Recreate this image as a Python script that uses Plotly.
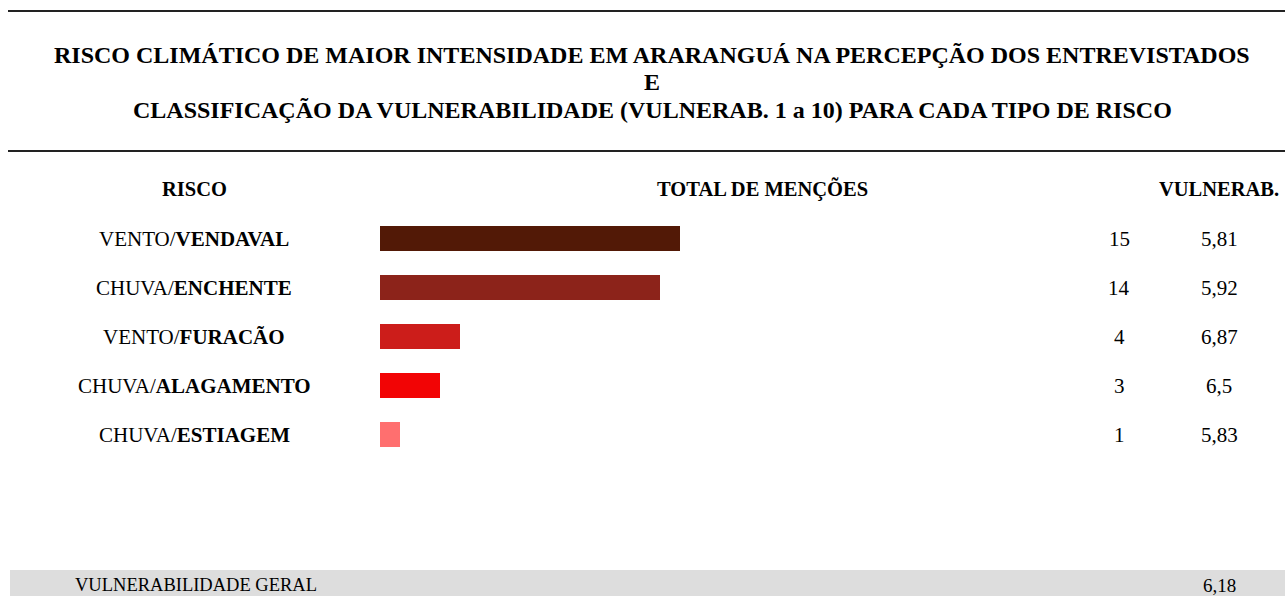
import plotly.graph_objects as go

# Data
riscos_prefixo = ["VENTO/", "CHUVA/", "VENTO/", "CHUVA/", "CHUVA/"]
riscos_tipo = ["VENDAVAL", "ENCHENTE", "FURACÃO", "ALAGAMENTO", "ESTIAGEM"]
mencoes = [15, 14, 4, 3, 1]
vulnerab = ["5,81", "5,92", "6,87", "6,5", "5,83"]
cores = ["#521906", "#8c231a", "#cc1d1a", "#f20405", "#ff6f6f"]
vulnerab_geral = "6,18"

titulo_linhas = [
    "RISCO CLIMÁTICO DE MAIOR INTENSIDADE EM ARARANGUÁ NA PERCEPÇÃO DOS ENTREVISTADOS",
    "E",
    "CLASSIFICAÇÃO DA VULNERABILIDADE (VULNERAB. 1 a 10) PARA CADA TIPO DE RISCO",
]
cabecalhos = ["RISCO", "TOTAL DE MENÇÕES", "VULNERAB."]

W, H = 1285, 596
FONT = "Liberation Serif, Times New Roman, serif"


def px(x):
    return x / W


def py(y):
    return 1 - y / H


categorias = [p + t for p, t in zip(riscos_prefixo, riscos_tipo)]

fig = go.Figure()
fig.add_trace(go.Bar(
    x=mencoes,
    y=categorias,
    orientation="h",
    marker=dict(color=cores, line=dict(width=0)),
    width=0.51,
    hoverinfo="skip",
))

# row labels, counts and vulnerability values
for cat, pre, tipo, n, v in zip(categorias, riscos_prefixo, riscos_tipo, mencoes, vulnerab):
    fig.add_annotation(x=px(194), y=cat, xref="paper", yref="y", text=f"{pre}<b>{tipo}</b>",
                       showarrow=False, xanchor="center", font=dict(size=21))
    fig.add_annotation(x=px(1119), y=cat, xref="paper", yref="y", text=str(n),
                       showarrow=False, xanchor="center", font=dict(size=21))
    fig.add_annotation(x=px(1219), y=cat, xref="paper", yref="y", text=v,
                       showarrow=False, xanchor="center", font=dict(size=21))

# column headers
for x, txt in zip((195, 762, 1219), cabecalhos):
    fig.add_annotation(x=px(x), y=py(189), xref="paper", yref="paper", text=f"<b>{txt}</b>",
                       showarrow=False, xanchor="center", yanchor="middle", font=dict(size=20.5))

# title, one annotation per line
for yy, linha in zip((55, 82, 110), titulo_linhas):
    fig.add_annotation(x=px(652), y=py(yy), xref="paper", yref="paper", text=f"<b>{linha}</b>",
                       showarrow=False, xanchor="center", yanchor="middle", font=dict(size=24))

# separators and bottom band
for yy in (11, 151):
    fig.add_shape(type="line", xref="paper", yref="paper", x0=px(8), x1=1,
                  y0=py(yy), y1=py(yy), line=dict(color="#222222", width=2))
fig.add_shape(type="rect", xref="paper", yref="paper", x0=px(10), x1=1,
              y0=0, y1=py(570), fillcolor="#dddddd", line=dict(width=0), layer="below")
fig.add_annotation(x=px(73), y=py(585), xref="paper", yref="paper", text="VULNERABILIDADE GERAL",
                   showarrow=False, xanchor="left", yanchor="middle", font=dict(size=18.5))
fig.add_annotation(x=px(1219), y=py(585), xref="paper", yref="paper", text=vulnerab_geral,
                   showarrow=False, xanchor="center", yanchor="middle", font=dict(size=19))

# rows centred at ~238.5 .. ~434.5 px, 49 px apart; 20 px per mention from x=380
row = 49
top = 238.5 - row / 2
bot = 434.5 + row / 2
fig.update_layout(
    width=W, height=H,
    margin=dict(l=0, r=0, t=0, b=0),
    paper_bgcolor="white", plot_bgcolor="white",
    font=dict(family=FONT, color="black"),
    showlegend=False,
    xaxis=dict(domain=[px(380), px(1080)], range=[0, 35], visible=False, fixedrange=True),
    yaxis=dict(domain=[py(bot), py(top)], autorange="reversed", visible=False,
               fixedrange=True),
)

# drop the default body margin so the figure fills the window exactly
fig.write_html(
    "out.html",
    config={"displayModeBar": False},
    post_script="document.body.style.margin = '0'; document.body.style.overflow = 'hidden';",
)
